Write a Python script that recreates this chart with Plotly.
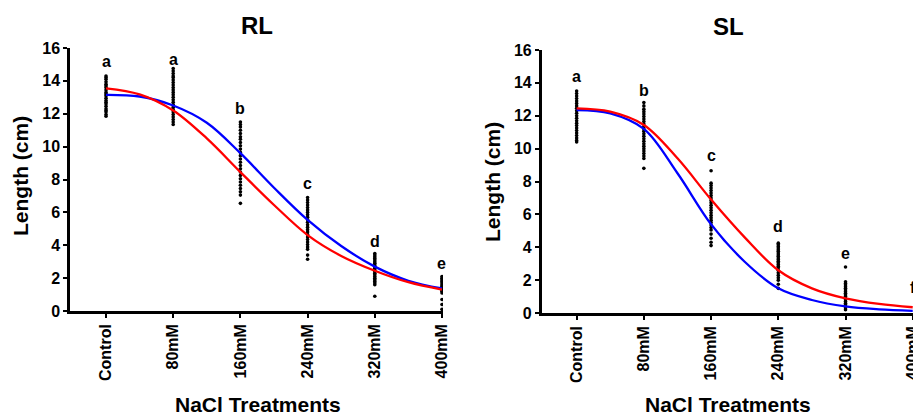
import plotly.graph_objects as go

categories = ["Control", "80mM", "160mM", "240mM", "320mM", "400mM"]
cat_pos = [0, 1, 2, 3, 4, 5]

# ---- RL individual observations (cm) ----
rl_control = [14.3, 14.2, 14.1, 13.95, 13.8, 13.7, 13.6, 13.45, 13.3, 13.2, 13.1, 12.95, 12.8,
              12.7, 12.6, 12.45, 12.3, 12.2, 12.1, 11.95, 11.85]
rl_80 = [14.75, 14.6, 14.45, 14.3, 14.2, 14.05, 13.9, 13.75, 13.6, 13.45, 13.3, 13.15, 13.0,
         12.85, 12.7, 12.55, 12.4, 12.25, 12.1, 11.95, 11.8, 11.65, 11.5, 11.35]
rl_160 = [11.5, 11.35, 11.2, 11.0, 10.8, 10.6, 10.45, 10.25, 10.05, 9.85, 9.65, 9.45, 9.25,
          9.05, 8.85, 8.65, 8.45, 8.25, 8.05, 7.85, 7.65, 7.45, 7.25, 7.05, 6.55]
rl_240 = [6.9, 6.75, 6.6, 6.45, 6.3, 6.15, 6.0, 5.85, 5.7, 5.55, 5.4, 5.25, 5.1, 4.95, 4.8,
          4.65, 4.5, 4.35, 4.2, 4.05, 3.9, 3.75, 3.4, 3.15]
rl_320 = [3.5, 3.4, 3.3, 3.2, 3.1, 3.0, 2.9, 2.8, 2.7, 2.6, 2.5, 2.4, 2.3, 2.2, 2.1, 2.0,
          1.9, 1.8, 1.7, 1.6, 0.9]
rl_400 = [2.1, 2.0, 1.9, 1.8, 1.7, 1.6, 1.5, 1.4, 1.3, 1.2, 1.1, 0.7, 0.4, 0.1]

# ---- SL individual observations (cm) ----
sl_control = [13.5, 13.35, 13.2, 13.05, 12.9, 12.75, 12.6, 12.45, 12.3, 12.15, 12.0, 11.85,
              11.7, 11.55, 11.4, 11.25, 11.1, 10.95, 10.8, 10.65, 10.5, 10.4]
sl_80 = [12.8, 12.6, 12.4, 12.25, 12.1, 11.95, 11.8, 11.65, 11.5, 11.35, 11.2, 11.05, 10.9,
         10.75, 10.6, 10.45, 10.3, 10.15, 10.0, 9.85, 9.7, 9.55, 9.4, 8.8]
sl_160 = [8.65, 7.9, 7.75, 7.6, 7.45, 7.3, 7.15, 7.0, 6.85, 6.7, 6.55, 6.4, 6.25, 6.1, 5.95,
          5.8, 5.65, 5.5, 5.35, 5.2, 5.05, 4.8, 4.55, 4.3, 4.1]
sl_240 = [4.25, 4.15, 4.05, 3.95, 3.85, 3.75, 3.65, 3.55, 3.45, 3.35, 3.25, 3.15, 3.05, 2.95,
          2.85, 2.75, 2.6, 2.45, 2.3, 2.15, 2.0, 1.75, 1.5]
sl_320 = [2.8, 1.9, 1.8, 1.7, 1.6, 1.5, 1.4, 1.3, 1.2, 1.1, 1.0, 0.9, 0.8, 0.7, 0.6, 0.5,
          0.4, 0.3, 0.2]
sl_400 = []

# ---- fitted curves, read at categories and half-way points ----
curve_x = [0, 0.5, 1, 1.5, 2, 2.5, 3, 3.5, 4, 4.5, 5]
rl_red = [13.55, 13.18, 12.2, 10.5, 8.45, 6.45, 4.62, 3.35, 2.45, 1.75, 1.3]
rl_blue = [13.15, 13.05, 12.5, 11.45, 9.6, 7.5, 5.54, 3.95, 2.7, 1.84, 1.37]
sl_red = [12.45, 12.25, 11.44, 9.41, 6.9, 4.6, 2.6, 1.5, 0.89, 0.55, 0.35]
sl_blue = [12.35, 12.15, 11.2, 8.5, 5.4, 3.12, 1.5, 0.79, 0.4, 0.22, 0.13]

# ---- significance letters ----
rl_letters = ["a", "a", "b", "c", "d", "e"]
rl_letters_y = [15.2, 15.3, 12.3, 7.75, 4.2, 2.9]
sl_letters = ["a", "b", "c", "d", "e", "f"]
sl_letters_y = [14.4, 13.56, 9.6, 5.25, 3.6, 1.56]

y_ticks = [0, 2, 4, 6, 8, 10, 12, 14, 16]

FONT = "Liberation Sans"
W, H = 913, 416

fig = go.Figure()


def add_panel(groups, red, blue, xa, ya):
    xs, ys = [], []
    for pos, vals in zip(cat_pos, groups):
        xs += [pos] * len(vals)
        ys += vals
    fig.add_trace(go.Scatter(x=xs, y=ys, mode="markers", xaxis=xa, yaxis=ya,
                             marker=dict(color="black", size=3.6), showlegend=False,
                             hoverinfo="y"))
    fig.add_trace(go.Scatter(x=curve_x, y=blue, mode="lines", xaxis=xa, yaxis=ya,
                             line=dict(color="#0000FF", width=2.3, shape="spline", smoothing=1.0),
                             showlegend=False))
    fig.add_trace(go.Scatter(x=curve_x, y=red, mode="lines", xaxis=xa, yaxis=ya,
                             line=dict(color="#FF0000", width=2.3, shape="spline", smoothing=1.0),
                             showlegend=False))


add_panel([rl_control, rl_80, rl_160, rl_240, rl_320, rl_400], rl_red, rl_blue, "x", "y")
add_panel([sl_control, sl_80, sl_160, sl_240, sl_320, sl_400], sl_red, sl_blue, "x2", "y2")

tickf = dict(family=FONT, size=16, color="black", weight="bold")
xaxis_common = dict(tickmode="array", tickvals=cat_pos, ticktext=categories, tickangle=-90,
                    showline=True, linecolor="black", linewidth=2.5, ticks="outside",
                    ticklen=4, tickwidth=2, tickcolor="black", showgrid=False, zeroline=False,
                    tickfont=tickf, automargin=False, ticklabeloverflow="allow")
yaxis_common = dict(range=[0, 16], tickmode="array", tickvals=y_ticks, showline=True,
                    linecolor="black", linewidth=2.5, ticks="outside", ticklen=4, tickwidth=2,
                    tickcolor="black", showgrid=False, zeroline=False, tickfont=tickf,
                    automargin=False)

fig.update_layout(
    width=W, height=H, margin=dict(l=0, r=0, t=0, b=0, autoexpand=False),
    paper_bgcolor="white", plot_bgcolor="white", showlegend=False,
    xaxis=dict(domain=[70 / W, 443 / W], range=[-0.536, 5.015], anchor="y", **xaxis_common),
    yaxis=dict(domain=[1 - 311 / H, 1 - 48 / H], anchor="x", **yaxis_common),
    xaxis2=dict(domain=[541.7 / W, 1.0], range=[-0.52, 5.004], anchor="y2", **xaxis_common),
    yaxis2=dict(domain=[1 - 313 / H, 1 - 50 / H], anchor="x2", **yaxis_common),
)

annos = []
for pos, t, yv in zip(cat_pos, rl_letters, rl_letters_y):
    annos.append(dict(x=pos, y=yv, xref="x", yref="y", text=t, showarrow=False,
                      font=dict(family=FONT, size=16, color="black", weight="bold")))
for pos, t, yv in zip(cat_pos, sl_letters, sl_letters_y):
    annos.append(dict(x=pos, y=yv, xref="x2", yref="y2", text=t, showarrow=False,
                      font=dict(family=FONT, size=16, color="black", weight="bold")))

big = dict(family=FONT, size=24, color="black", weight="bold")
mid = dict(family=FONT, size=21, color="black", weight="bold")
for txt, x, y, ang, f in [
    ("RL", 257, 25, 0, big),
    ("SL", 728, 26, 0, big),
    ("Length (cm)", 20, 176, -90, mid),
    ("Length (cm)", 492, 182, -90, mid),
    ("NaCl Treatments", 257.5, 404, 0, mid),
    ("NaCl Treatments", 728, 404, 0, mid),
]:
    annos.append(dict(x=x / W, y=1 - y / H, xref="paper", yref="paper", text=txt,
                      showarrow=False, textangle=ang, xanchor="center", yanchor="middle",
                      font=f))

fig.update_layout(annotations=annos)
fig.write_html("out.html", config={"displayModeBar": False},
               post_script="document.body.style.margin='0';document.body.style.overflow='hidden';")
